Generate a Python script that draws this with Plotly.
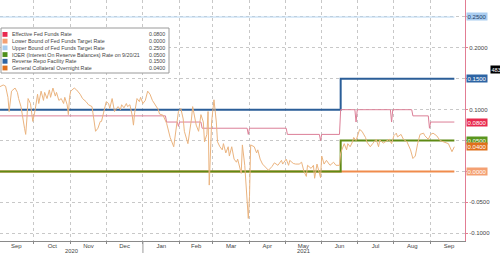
import plotly.graph_objects as go

# ---------------- data ----------------
START, END = "2020-09-02", "2021-09-21"
upper_dates = [START, END]
upper_vals = [0.25, 0.25]
lower_dates = [START, END]
lower_vals = [0.0, 0.0]
rrp_dates = ["2020-09-02", "2021-06-17", "2021-09-21"]
rrp_vals = [0.10, 0.15, 0.15]
ioer_dates = ["2020-09-02", "2021-06-17", "2021-09-21"]
ioer_vals = [0.0, 0.05, 0.05]

effr_dates = ["2020-09-02", "2021-01-20", "2021-01-21", "2021-01-30", "2021-01-31", "2021-02-01",
              "2021-02-19", "2021-02-20", "2021-03-30", "2021-03-31", "2021-04-01", "2021-05-02",
              "2021-05-03", "2021-05-30", "2021-05-31", "2021-06-01", "2021-06-16", "2021-06-17",
              "2021-06-29", "2021-06-30", "2021-07-01", "2021-07-29", "2021-07-30", "2021-07-31",
              "2021-08-16", "2021-08-17", "2021-08-30", "2021-08-31", "2021-09-01", "2021-09-21"]
effr_vals = [0.09, 0.09, 0.08, 0.08, 0.073, 0.08,
             0.08, 0.07, 0.07, 0.06, 0.07, 0.07,
             0.06, 0.06, 0.05, 0.06, 0.06, 0.10,
             0.10, 0.08, 0.10, 0.10, 0.08, 0.10,
             0.10, 0.09, 0.09, 0.07, 0.08, 0.08]

gco_dates = ["2020-09-02", "2020-09-05", "2020-09-07", "2020-09-09", "2020-09-10", "2020-09-12",
             "2020-09-15", "2020-09-17", "2020-09-18", "2020-09-20", "2020-09-23", "2020-09-24",
             "2020-09-25", "2020-09-26", "2020-09-28", "2020-09-29", "2020-09-30", "2020-10-02",
             "2020-10-04", "2020-10-05", "2020-10-07", "2020-10-09", "2020-10-10", "2020-10-12",
             "2020-10-14", "2020-10-15", "2020-10-17", "2020-10-19", "2020-10-20", "2020-10-22",
             "2020-10-24", "2020-10-26", "2020-10-27", "2020-10-29", "2020-10-30", "2020-10-31",
             "2020-11-01", "2020-11-04", "2020-11-06", "2020-11-09", "2020-11-11", "2020-11-14",
             "2020-11-16", "2020-11-19", "2020-11-21", "2020-11-22", "2020-11-24", "2020-11-26",
             "2020-11-27", "2020-11-29", "2020-12-01", "2020-12-03", "2020-12-04", "2020-12-06",
             "2020-12-08", "2020-12-09", "2020-12-11", "2020-12-13", "2020-12-14", "2020-12-16",
             "2020-12-18", "2020-12-19", "2020-12-21", "2020-12-23", "2020-12-24", "2020-12-25",
             "2020-12-27", "2020-12-29", "2020-12-30", "2021-01-01", "2021-01-03", "2021-01-05",
             "2021-01-07", "2021-01-09", "2021-01-11", "2021-01-14", "2021-01-15", "2021-01-18",
             "2021-01-21", "2021-01-24", "2021-01-27", "2021-01-29", "2021-01-31", "2021-02-02",
             "2021-02-04", "2021-02-05", "2021-02-08", "2021-02-11", "2021-02-12", "2021-02-15",
             "2021-02-17", "2021-02-19", "2021-02-21", "2021-02-22", "2021-02-24", "2021-02-25",
             "2021-02-26", "2021-02-28", "2021-03-02", "2021-03-04", "2021-03-05", "2021-03-07",
             "2021-03-09", "2021-03-10", "2021-03-12", "2021-03-14", "2021-03-15", "2021-03-17",
             "2021-03-19", "2021-03-21", "2021-03-22", "2021-03-25", "2021-03-26", "2021-03-28",
             "2021-03-30", "2021-03-31", "2021-04-01", "2021-04-02", "2021-04-05", "2021-04-07",
             "2021-04-08", "2021-04-10", "2021-04-12", "2021-04-15", "2021-04-17", "2021-04-20",
             "2021-04-22", "2021-04-25", "2021-04-28", "2021-04-29", "2021-05-02", "2021-05-04",
             "2021-05-05", "2021-05-08", "2021-05-10", "2021-05-13", "2021-05-15", "2021-05-17",
             "2021-05-19", "2021-05-20", "2021-05-23", "2021-05-25", "2021-05-26", "2021-05-28",
             "2021-05-31", "2021-06-01", "2021-06-03", "2021-06-05", "2021-06-08", "2021-06-11",
             "2021-06-13", "2021-06-16", "2021-06-17", "2021-06-20", "2021-06-22", "2021-06-23",
             "2021-06-25", "2021-06-27", "2021-06-28", "2021-06-30", "2021-07-02", "2021-07-03",
             "2021-07-05", "2021-07-08", "2021-07-09", "2021-07-12", "2021-07-14", "2021-07-17",
             "2021-07-19", "2021-07-20", "2021-07-23", "2021-07-25", "2021-07-28", "2021-07-30",
             "2021-08-01", "2021-08-03", "2021-08-04", "2021-08-07", "2021-08-09", "2021-08-12",
             "2021-08-15", "2021-08-17", "2021-08-19", "2021-08-21", "2021-08-23", "2021-08-26",
             "2021-08-27", "2021-08-30", "2021-09-01", "2021-09-03", "2021-09-06", "2021-09-09",
             "2021-09-12", "2021-09-14", "2021-09-16", "2021-09-19", "2021-09-21"]
gco_vals = [0.137, 0.140, 0.138, 0.120, 0.097, 0.130,
            0.135, 0.128, 0.118, 0.105, 0.070, 0.060,
            0.085, 0.118, 0.110, 0.095, 0.081, 0.100,
            0.125, 0.110, 0.130, 0.115, 0.128, 0.118,
            0.132, 0.120, 0.135, 0.122, 0.128, 0.115,
            0.118, 0.110, 0.120, 0.108, 0.092, 0.120,
            0.130, 0.135, 0.132, 0.125, 0.118, 0.113,
            0.108, 0.105, 0.075, 0.065, 0.070, 0.081,
            0.081, 0.095, 0.113, 0.110, 0.102, 0.118,
            0.097, 0.100, 0.105, 0.100, 0.108, 0.103,
            0.110, 0.105, 0.108, 0.090, 0.075, 0.095,
            0.118, 0.113, 0.120, 0.110, 0.115, 0.130,
            0.125, 0.115, 0.108, 0.100, 0.093, 0.091,
            0.078, 0.055, 0.040, 0.070, 0.097, 0.102,
            0.085, 0.065, 0.045, 0.085, 0.105, 0.075,
            0.065, 0.092, 0.080, 0.048, 0.060, 0.097,
            -0.022, 0.080, 0.116, 0.080, 0.048, 0.040,
            0.035, 0.045, 0.030, 0.040, 0.025, 0.040,
            0.020, 0.015, 0.020, -0.003, 0.043, 0.010,
            -0.040, -0.076, -0.040, 0.043, 0.040, 0.030,
            0.035, 0.020, 0.012, 0.005, 0.002, 0.008,
            0.014, 0.010, 0.018, 0.012, 0.020, 0.010,
            0.018, 0.013, 0.012, 0.012, 0.015, 0.000,
            -0.008, 0.010, 0.005, 0.010, -0.011, 0.012,
            -0.010, 0.025, 0.012, 0.018, 0.010, 0.015,
            0.010, 0.010, 0.030, 0.045, 0.035, 0.045,
            0.040, 0.048, 0.055, 0.050, 0.060, 0.068,
            0.065, 0.055, 0.048, 0.040, 0.045, 0.052,
            0.040, 0.051, 0.046, 0.048, 0.052, 0.045,
            0.058, 0.062, 0.056, 0.060, 0.052, 0.048,
            0.035, 0.021, 0.025, 0.045, 0.060, 0.062,
            0.058, 0.052, 0.060, 0.062, 0.058, 0.050,
            0.048, 0.046, 0.045, 0.032, 0.040]

legend_names = ["Effective Fed Funds Rate", "Lower Bound of Fed Funds Target Rate",
                "Upper Bound of Fed Funds Target Rate",
                "IOER (Interest On Reserve Balances) Rate on 9/20/21",
                "Reverse Repo Facility Rate", "General Collateral Overnight Rate"]
legend_values = ["0.0800", "0.0000", "0.2500", "0.0500", "0.1500", "0.0400"]
legend_colors = ["#e8294e", "#f4a072", "#a8cdf0", "#4e8f1c", "#2d64a4", "#e0701c"]

# last-value tags on the right axis: (value, text, background, text colour)
tag_vals = [0.25, 0.15, 0.08, 0.05, 0.04, 0.0]
tag_text = ["0.2500", "0.1500", "0.0800", "0.0500", "0.0400", "0.0000"]
tag_bg = ["#aacdf0", "#2d64a4", "#e8294e", "#5a961e", "#e0701c", "#f4a072"]
tag_fg = ["#1d3c66", "white", "white", "white", "white", "white"]

# y-axis ticks (labels hidden where a value tag sits on top)
ytick_vals = [-0.10, -0.05, 0.0, 0.05, 0.10, 0.15, 0.20, 0.25]
ytick_text = ["-0.1000", "-0.0500", "", "", "0.1000", "", "0.2000", ""]

year_labels = ["2020", "2021"]
year_pos = ["2020-11-01 12:00", "2021-05-17"]

# ---------------- figure ----------------
W, H = 500, 253
ML, MR, MT, MB = 0, 35, 0, 12
PW, PH = W - ML - MR, H - MT - MB
FONT = "Liberation Sans, Arial, sans-serif"

def px(x):
    return x / PW

def py(y):
    return 1 - y / PH

fig = go.Figure()
fig.add_trace(go.Scatter(x=upper_dates, y=upper_vals, mode="lines",
                         line=dict(color="#b5d5f2", width=1.2)))
fig.add_trace(go.Scatter(x=lower_dates, y=lower_vals, mode="lines",
                         line=dict(color="#f08c4c", width=2)))
fig.add_trace(go.Scatter(x=ioer_dates, y=ioer_vals, mode="lines", line_shape="hv",
                         line=dict(color="#5f8a14", width=2)))
fig.add_trace(go.Scatter(x=rrp_dates, y=rrp_vals, mode="lines", line_shape="hv",
                         line=dict(color="#2b5e98", width=2)))
fig.add_trace(go.Scatter(x=effr_dates, y=effr_vals, mode="lines",
                         line=dict(color="#dc7f97", width=1)))
fig.add_trace(go.Scatter(x=gco_dates, y=gco_vals, mode="lines",
                         line=dict(color="#ebb47f", width=1)))

fig.update_layout(
    width=W, height=H, margin=dict(l=ML, r=MR, t=MT, b=MB),
    paper_bgcolor="white", plot_bgcolor="white", showlegend=False,
    font=dict(family=FONT, size=6, color="#444"),
    xaxis=dict(type="date", range=["2020-09-02 07:00", "2021-09-30"],
               dtick="M1", tick0="2020-09-01", tickformat="%b", ticklabelmode="period",
               showgrid=True, gridcolor="#c8c8c8", griddash="dot", gridwidth=1,
               showline=True, linecolor="#8a8a8a", linewidth=1,
               ticks="outside", ticklen=2, tickcolor="#8a8a8a", ticklabelstandoff=-3,
               tickfont=dict(size=6, color="#444"), zeroline=False),
    yaxis=dict(side="right", range=[-0.1125, 0.2775], tickmode="array",
               tickvals=ytick_vals, ticktext=ytick_text,
               showgrid=True, gridcolor="#c8c8c8", griddash="dot",
               gridwidth=1, showline=True, linecolor="#e27d93", linewidth=1,
               ticks="outside", ticklen=2, tickcolor="#e27d93",
               tickfont=dict(size=6, color="#444"), zeroline=False),
)

# year labels and separator
for t, d in zip(year_labels, year_pos):
    fig.add_annotation(x=d, y=py(250.8), xref="x", yref="paper", text=t, showarrow=False,
                       font=dict(size=5.8, color="#444"), xanchor="center", yanchor="middle")
fig.add_shape(type="line", xref="x", yref="paper", x0="2021-01-01", x1="2021-01-01",
              y0=0, y1=py(253), line=dict(color="#9a9a9a", width=1))

# value tags
for v, t, bg, fg in zip(tag_vals, tag_text, tag_bg, tag_fg):
    fig.add_annotation(x=1, y=v, xref="paper", yref="y", text=t, showarrow=False,
                       xanchor="left", yanchor="middle", xshift=1,
                       font=dict(size=6, color=fg), bgcolor=bg, borderpad=0.6)

fig.add_annotation(x=1, y=py(69), xref="paper", yref="paper", text="483", showarrow=False,
                   xanchor="left", yanchor="middle", xshift=25,
                   font=dict(size=5.5, color="white"), bgcolor="black", borderpad=0.5)

# custom legend box
fig.add_shape(type="rect", xref="paper", yref="paper", x0=px(1), x1=px(169),
              y0=py(73), y1=py(28), fillcolor="white", line=dict(color="#9a9a9a", width=1),
              layer="above")
row0, step = 34.4, 6.72
for i, (n, v, c) in enumerate(zip(legend_names, legend_values, legend_colors)):
    yc = row0 + i * step
    fig.add_shape(type="rect", xref="paper", yref="paper", x0=px(2.5), x1=px(7.5),
                  y0=py(yc + 2.4), y1=py(yc - 2.4), fillcolor=c, line=dict(width=0),
                  layer="above")
    fig.add_annotation(x=px(9.5), y=py(yc), xref="paper", yref="paper", text=n,
                       showarrow=False, xanchor="left", yanchor="middle",
                       font=dict(size=5.3, color="#444"))
    fig.add_annotation(x=px(166.5), y=py(yc), xref="paper", yref="paper", text=v,
                       showarrow=False, xanchor="right", yanchor="middle",
                       font=dict(size=5.3, color="#444"))

fig.write_html("out.html")
